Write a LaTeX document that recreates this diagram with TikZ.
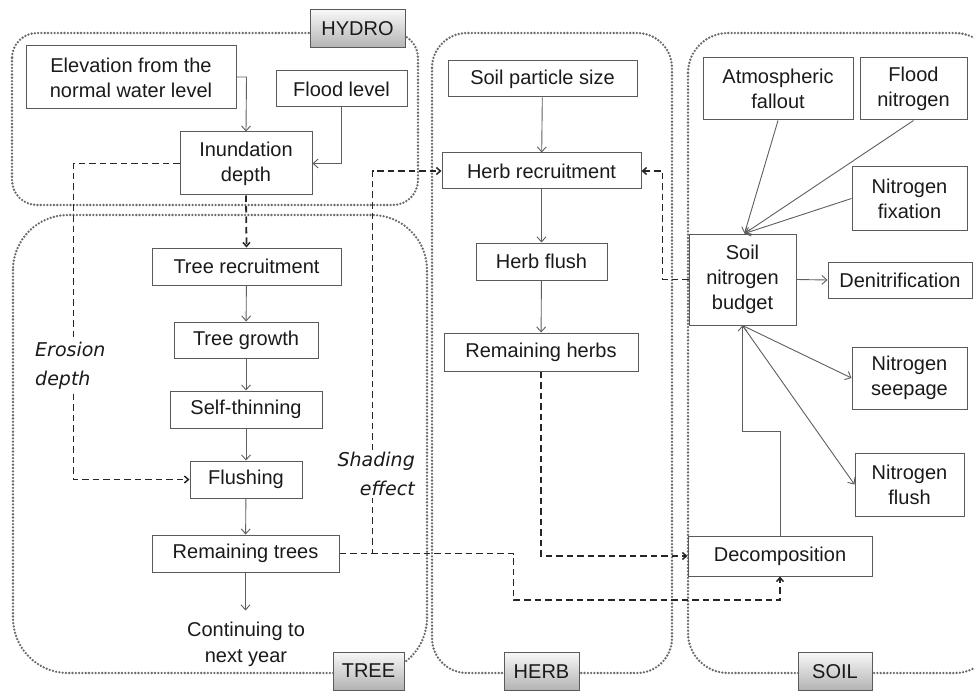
\documentclass[tikz,border=0pt]{standalone}
\usepackage{fontspec}
\setmainfont{Liberation Sans}
\newfontfamily\labfont{DejaVu Sans}
\usetikzlibrary{arrows.meta,calc}
\definecolor{linegray}{HTML}{5E5E5E}
\definecolor{boxgray}{HTML}{5A5A5A}
\definecolor{dashc}{HTML}{262626}
\definecolor{dotgray}{HTML}{6A6A6A}
\definecolor{txt}{HTML}{1A1A1A}
\begin{document}
\begin{tikzpicture}[x=1pt,y=-1pt,
  bx/.style={draw=boxgray, line width=1pt, align=center, inner sep=0pt, text=txt, font=\fontsize{20}{25}\selectfont},
  plain/.style={align=center, inner sep=0pt, text=txt, font=\fontsize{20}{26}\selectfont},
  lab/.style={inner sep=2pt, fill=white, text=txt, font=\labfont\itshape\fontsize{19}{29}\selectfont},
  conn/.style={draw=linegray, line width=0.9pt, -{Straight Barb[length=5pt,width=9pt]}},
  dsh/.style={draw=dashc, line width=1.8pt, dash pattern=on 6.5pt off 4pt, -{Straight Barb[length=4pt,width=7pt,line width=1.5pt]}},
  region/.style={draw=dotgray, line width=2.6pt, dash pattern=on 0pt off 3.3pt, line cap=round},
  tag/.style={draw=boxgray, line width=1pt, top color=gray!6, bottom color=gray!60, inner sep=0pt, text=txt, font=\fontsize{20}{24}\selectfont}
]
\path[use as bounding box, clip] (0,0) rectangle (974,695);

% regions
\draw[region, rounded corners=25pt] (12,33) rectangle (418,205);
\draw[region, rounded corners=55pt] (13,215) rectangle (427,673);
\draw[region, rounded corners=35pt] (432,33) rectangle (672,673);
\draw[region, rounded corners=40pt] (688,33) rectangle (995,673);

% tags
\node[tag, minimum width=95, minimum height=38] (thydro) at (357.5,29) {HYDRO};
\node[tag, minimum width=71, minimum height=38] (ttree) at (368.5,671) {TREE};
\node[tag, minimum width=75, minimum height=38] (therb) at (541.5,671.5) {HERB};
\node[tag, minimum width=74, minimum height=38] (tsoil) at (835,671.5) {SOIL};

% HYDRO boxes
\node[bx, minimum width=210, minimum height=63] (elev) at (131,77.5) {Elevation from the\\normal water level};
\node[bx, minimum width=131, minimum height=36] (floodlvl) at (341.5,89) {Flood level};
\node[bx, minimum width=132, minimum height=63] (inund) at (246,163.5) {Inundation\\depth};

% TREE boxes
\node[bx, minimum width=189, minimum height=37] (treerec) at (246.5,266.5) {Tree recruitment};
\node[bx, minimum width=144, minimum height=36] (treegrow) at (246,340) {Tree growth};
\node[bx, minimum width=152, minimum height=37] (selfthin) at (246,409.5) {Self-thinning};
\node[bx, minimum width=112, minimum height=37] (flushing) at (246,479.5) {Flushing};
\node[bx, minimum width=187, minimum height=37] (remtrees) at (245.5,553.5) {Remaining trees};
\node[plain] (cont) at (246,644) {Continuing to\\next year};

% HERB boxes
\node[bx, minimum width=189, minimum height=36] (soilpart) at (542.5,79) {Soil particle size};
\node[bx, minimum width=199, minimum height=36] (herbrec) at (541.5,171) {Herb recruitment};
\node[bx, minimum width=131, minimum height=37] (herbflush) at (541.5,261.5) {Herb flush};
\node[bx, minimum width=194, minimum height=38] (remherbs) at (541,352) {Remaining herbs};

% SOIL boxes
\node[bx, minimum width=150, minimum height=62] (atmos) at (778,89) {Atmospheric\\fallout};
\node[bx, minimum width=107, minimum height=62] (floodn) at (913.5,89) {Flood\\nitrogen};
\node[bx, minimum width=115, minimum height=63] (nfix) at (909.5,198.5) {Nitrogen\\fixation};
\node[bx, minimum width=107, minimum height=91] (soiln) at (742.5,279.5) {Soil\\nitrogen\\budget};
\node[bx, minimum width=144, minimum height=36] (denit) at (900,280) {Denitrification};
\node[bx, minimum width=115, minimum height=62] (seep) at (909.5,378) {Nitrogen\\seepage};
\node[bx, minimum width=109, minimum height=63] (nflush) at (909.5,484.5) {Nitrogen\\flush};
\node[bx, minimum width=184, minimum height=40] (decomp) at (780,556) {Decomposition};

% solid connectors
\draw[conn] ($(elev.east)+(0,-0.5)$) -- ++(10,0) -- (inund.north);
\draw[conn] (floodlvl.south) |- (inund.east);
\draw[conn] (treerec) -- (treegrow);
\draw[conn] (treegrow) -- (selfthin);
\draw[conn] (selfthin) -- (flushing);
\draw[conn] (flushing) -- (remtrees);
\draw[conn] (remtrees.south) -- ++(0,38) coordinate (contend);
\draw[conn] (soilpart) -- (herbrec);
\draw[conn] (herbrec) -- (herbflush);
\draw[conn] (herbflush) -- (remherbs);
\draw[conn] (atmos.south) -- ($(soiln.north)+(2,0)$);
\draw[conn] (floodn.south) -- ($(soiln.north)+(2,0)$);
\draw[conn] (nfix.west) -- ($(soiln.north)+(2,0)$);
\draw[conn] (soiln.east) -- (denit.west);
\draw[conn] (soiln.south) -- (seep.west);
\draw[conn] (soiln.south) -- (nflush.west);
\draw[conn] (decomp.north) -- ++(0,-104) -| (soiln.south);

% dashed connectors
\draw[dsh] (inund.south) -- (treerec.north);
\draw[dsh] (inund.west) -- ++(-106,0) |- (flushing.west);
\draw[dsh] (remtrees.east) -- ++(33,0) |- (herbrec.west);
\draw[dsh] (remtrees.east) -- ++(174,0) -- ++(0,46.5) -| (decomp.south);
\draw[dsh] (remherbs.south) |- (decomp.west);
\draw[dsh] (soiln.west) -- ++(-26,0) |- (herbrec.east);

% labels
\node[lab, anchor=west, align=left] (erosion) at (33,366) {Erosion\\depth};
\node[lab, anchor=east, align=right] (shading) at (417,474) {Shading\\effect};
\end{tikzpicture}
\end{document}
